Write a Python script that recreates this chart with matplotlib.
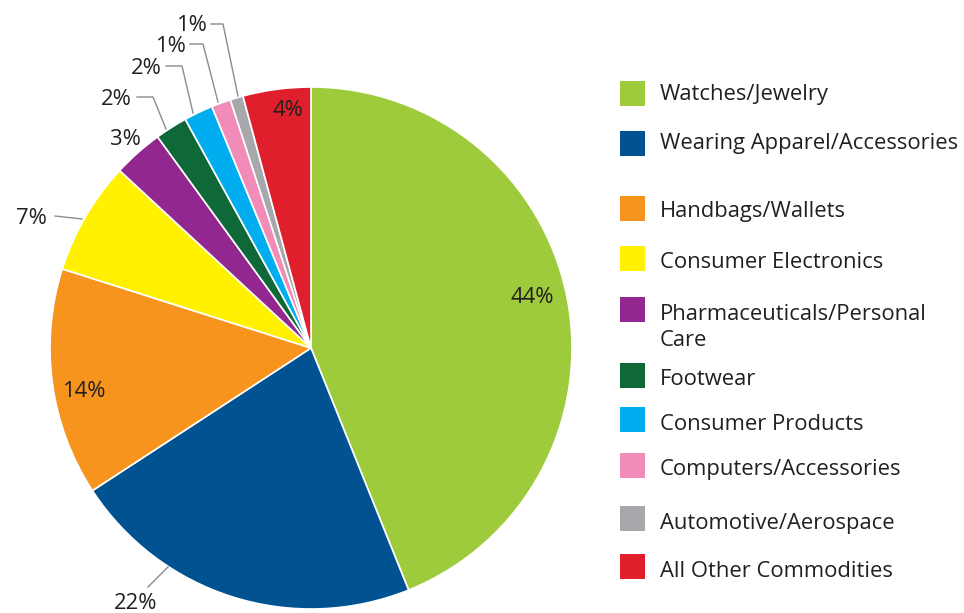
import matplotlib
matplotlib.use("Agg")
import matplotlib.pyplot as plt
from matplotlib.patches import Rectangle

# ---- data ----
categories = [
    "Watches/Jewelry",
    "Wearing Apparel/Accessories",
    "Handbags/Wallets",
    "Consumer Electronics",
    "Pharmaceuticals/Personal\nCare",
    "Footwear",
    "Consumer Products",
    "Computers/Accessories",
    "Automotive/Aerospace",
    "All Other Commodities",
]
shares = [43.9, 21.9, 14.1, 7.0, 3.1, 2.0, 1.8, 1.2, 0.8, 4.2]
colors = ["#9ECB3B", "#005291", "#F7941E", "#FFF100", "#92278F",
          "#0E6838", "#00AEEF", "#F18CB9", "#A6A8AB", "#E01F2D"]
pct_labels = [f"{round(v)}%" for v in shares]

# ---- layout (pixels in a 964x613 canvas) ----
W, H = 964, 613
cx, cy, R = 311, 348, 261
TXT = "#231F20"
LINE = "#8A8C8E"
FONT = "Open Sans"
FS = 15.8
DY = 2.5  # vertical nudge for text centering

# label layout: (text x, text y, ha, leader polyline or None)
label_layout = [
    (532, 295, "center", None),
    (136, 601, "center", [(148, 587), (168, 567)]),
    (84, 389, "center", None),
    (47, 216, "right", [(55, 216), (82, 219)]),
    (125, 137, "center", None),
    (132, 97, "right", [(137, 97), (153, 97), (166, 129)]),
    (162, 66, "right", [(166, 66), (182, 66), (193, 113)]),
    (186, 44, "right", [(190, 44), (203, 44), (218, 102)]),
    (207, 23, "right", [(211, 24), (223, 24), (238, 96)]),
    (288, 108, "center", None),
]
legend_rows_y = [93, 143, 208, 258, 309, 375, 419, 465, 518, 566]
legend_text_y = [92, 141, 209, 260, 325, 377, 422, 467, 521, 569]

fig = plt.figure(figsize=(W / 100, H / 100), dpi=100)
fig.patch.set_facecolor("white")

ax = fig.add_axes([(cx - R) / W, (H - cy - R) / H, 2 * R / W, 2 * R / H])
wedges, _ = ax.pie(shares, colors=colors, startangle=90, counterclock=False,
                   radius=1, wedgeprops=dict(edgecolor="white", linewidth=1.2))
for w in wedges:
    w.set_clip_on(False)
ax.set_xlim(-1, 1)
ax.set_ylim(-1, 1)
ax.set_aspect("equal")
ax.axis("off")


def to_data(px, py):
    return (px - cx) / R, (cy - py) / R


for lab, (tx, ty, ha, leader) in zip(pct_labels, label_layout):
    x, y = to_data(tx, ty + DY)
    ax.text(x, y, lab, ha=ha, va="center", fontsize=FS, color=TXT,
            family=FONT, clip_on=False)
    if leader:
        xs, ys = zip(*[to_data(p[0], p[1]) for p in leader])
        ax.plot(xs, ys, color=LINE, lw=1.0, clip_on=False)

# legend
for cat, col, ry, tyy in zip(categories, colors, legend_rows_y, legend_text_y):
    fig.patches.append(Rectangle((620 / W, (H - ry - 12.5) / H), 25 / W, 25 / H,
                                 transform=fig.transFigure, facecolor=col,
                                 edgecolor="none"))
    fig.text(660 / W, (H - tyy - DY) / H, cat, ha="left", va="center",
             fontsize=FS, color=TXT, family=FONT, linespacing=1.28)

fig.savefig("out.png", dpi=100)
